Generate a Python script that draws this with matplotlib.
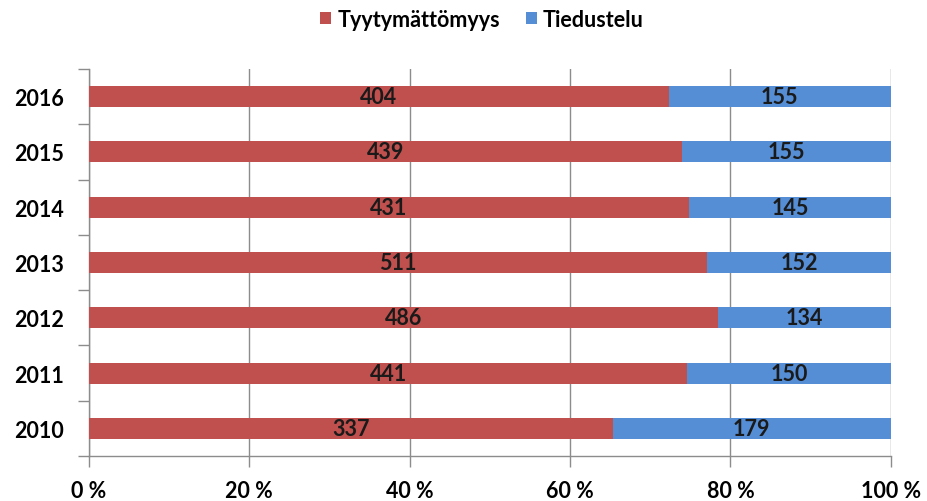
import matplotlib.pyplot as plt
import numpy as np

years = ["2010", "2011", "2012", "2013", "2014", "2015", "2016"]
tyyty = [337, 441, 486, 511, 431, 439, 404]
tiedustelu = [179, 150, 134, 152, 145, 155, 155]
xticks = [0, 20, 40, 60, 80, 100]

red = "#C0504D"
blue = "#558ED5"
grid_c = "#8C8C8C"

plt.rcParams['font.family'] = ['Lato', 'DejaVu Sans']
plt.rcParams['font.weight'] = 'bold'
fs = 15.5

t = np.array(tyyty, dtype=float)
q = np.array(tiedustelu, dtype=float)
tot = t + q
tp = t / tot * 100
qp = q / tot * 100
y = np.arange(len(years))

fig = plt.figure(figsize=(9.27, 5.02), dpi=100)
ax = fig.add_axes([0.096, 0.0896, 0.865, 0.771])

h = 0.38
b1 = ax.barh(y, tp, height=h, color=red, label="Tyytymättömyys", zorder=3)
b2 = ax.barh(y, qp, left=tp, height=h, color=blue, label="Tiedustelu", zorder=3)

for i in range(len(years)):
    ax.text(tp[i] / 2, y[i], str(tyyty[i]), ha='center', va='center',
            fontsize=fs, fontweight='bold', color='#1a1a1a', zorder=4)
    ax.text(tp[i] + qp[i] / 2, y[i], str(tiedustelu[i]), ha='center', va='center',
            fontsize=fs, fontweight='bold', color='#1a1a1a', zorder=4)

ax.set_xlim(0, 100)
ax.set_ylim(-0.5, len(years) - 0.5)
ax.set_xticks(xticks)
ax.set_xticklabels([f"{v} %" for v in xticks], fontsize=fs, fontweight='bold')
ax.set_yticks(y)
ax.set_yticklabels(years, fontsize=fs, fontweight='bold')
ax.set_yticks(np.arange(-0.5, len(years), 1.0), minor=True)
ax.tick_params(axis='y', which='major', length=0, pad=18)
ax.tick_params(axis='y', which='minor', length=8, width=1, color=grid_c, direction='out')
ax.tick_params(axis='x', which='major', length=8, width=1, color=grid_c, direction='out', pad=9)

ax.grid(axis='x', color=grid_c, linewidth=1, zorder=0)
for s in ['top', 'right']:
    ax.spines[s].set_visible(False)
for s in ['left', 'bottom']:
    ax.spines[s].set_color(grid_c)
    ax.spines[s].set_linewidth(1)

fig.legend(handles=[b1, b2], loc='center', bbox_to_anchor=(0.52, 0.96), ncol=2,
           frameon=False, fontsize=fs, handlelength=0.5, handleheight=0.5,
           columnspacing=1.2, handletextpad=0.3)

fig.savefig("out.png", dpi=100)
